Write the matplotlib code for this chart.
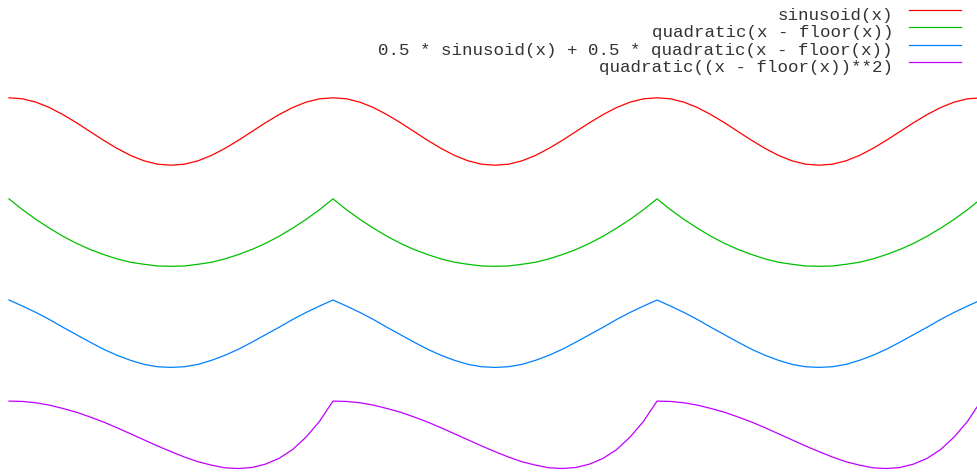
import numpy as np
import matplotlib
matplotlib.use("Agg")
import matplotlib.pyplot as plt
from matplotlib.lines import Line2D

################################ data ##########################################

# sample grid: 24 samples per period, three periods
x = np.linspace(0, 3, 73)

labels = [
    "sinusoid(x)",
    "quadratic(x - floor(x))",
    "0.5 * sinusoid(x) + 0.5 * quadratic(x - floor(x))",
    "quadratic((x - floor(x))**2)",
]

sinusoid = [
    1.00, 0.97, 0.87, 0.71, 0.50, 0.26, 0.00, -0.26, -0.50, -0.71, -0.87, -0.97,
    -1.00, -0.97, -0.87, -0.71, -0.50, -0.26, 0.00, 0.26, 0.50, 0.71, 0.87, 0.97,
    1.00, 0.97, 0.87, 0.71, 0.50, 0.26, 0.00, -0.26, -0.50, -0.71, -0.87, -0.97,
    -1.00, -0.97, -0.87, -0.71, -0.50, -0.26, 0.00, 0.26, 0.50, 0.71, 0.87, 0.97,
    1.00, 0.97, 0.87, 0.71, 0.50, 0.26, 0.00, -0.26, -0.50, -0.71, -0.87, -0.97,
    -1.00, -0.97, -0.87, -0.71, -0.50, -0.26, 0.00, 0.26, 0.50, 0.71, 0.87, 0.97,
    1.00,
]

quadratic = [
    1.00, 0.68, 0.39, 0.13, -0.11, -0.32, -0.50, -0.65, -0.78, -0.88, -0.94, -0.99,
    -1.00, -0.99, -0.94, -0.88, -0.78, -0.65, -0.50, -0.32, -0.11, 0.13, 0.39, 0.68,
    1.00, 0.68, 0.39, 0.13, -0.11, -0.32, -0.50, -0.65, -0.78, -0.88, -0.94, -0.99,
    -1.00, -0.99, -0.94, -0.88, -0.78, -0.65, -0.50, -0.32, -0.11, 0.13, 0.39, 0.68,
    1.00, 0.68, 0.39, 0.13, -0.11, -0.32, -0.50, -0.65, -0.78, -0.88, -0.94, -0.99,
    -1.00, -0.99, -0.94, -0.88, -0.78, -0.65, -0.50, -0.32, -0.11, 0.13, 0.39, 0.68,
    1.00,
]

mixed = [
    1.00, 0.82, 0.63, 0.42, 0.19, -0.03, -0.25, -0.46, -0.64, -0.79, -0.91, -0.98,
    -1.00, -0.98, -0.91, -0.79, -0.64, -0.46, -0.25, -0.03, 0.19, 0.42, 0.63, 0.82,
    1.00, 0.82, 0.63, 0.42, 0.19, -0.03, -0.25, -0.46, -0.64, -0.79, -0.91, -0.98,
    -1.00, -0.98, -0.91, -0.79, -0.64, -0.46, -0.25, -0.03, 0.19, 0.42, 0.63, 0.82,
    1.00, 0.82, 0.63, 0.42, 0.19, -0.03, -0.25, -0.46, -0.64, -0.79, -0.91, -0.98,
    -1.00, -0.98, -0.91, -0.79, -0.64, -0.46, -0.25, -0.03, 0.19, 0.42, 0.63, 0.82,
    1.00,
]

quadratic_sq = [
    1.00, 0.99, 0.95, 0.88, 0.78, 0.67, 0.53, 0.38, 0.21, 0.03, -0.15, -0.33,
    -0.50, -0.66, -0.80, -0.90, -0.98, -1.00, -0.97, -0.87, -0.70, -0.44, -0.07, 0.40,
    1.00, 0.99, 0.95, 0.88, 0.78, 0.67, 0.53, 0.38, 0.21, 0.03, -0.15, -0.33,
    -0.50, -0.66, -0.80, -0.90, -0.98, -1.00, -0.97, -0.87, -0.70, -0.44, -0.07, 0.40,
    1.00, 0.99, 0.95, 0.88, 0.78, 0.67, 0.53, 0.38, 0.21, 0.03, -0.15, -0.33,
    -0.50, -0.66, -0.80, -0.90, -0.98, -1.00, -0.97, -0.87, -0.70, -0.44, -0.07, 0.40,
    1.00,
]

series = [sinusoid, quadratic, mixed, quadratic_sq]

################################ style ##########################################

colors = ["#ff0000", "#00c000", "#0080ff", "#c000ff"]
offsets = [0, -3, -6, -9]   # vertical stacking of the curves

W, H = 977, 474
fig = plt.figure(figsize=(W / 100, H / 100), dpi=100)
ax = fig.add_axes([0, 0, 1, 1])
ax.set_axis_off()

for ys, off, c in zip(series, offsets, colors):
    ax.plot(x, np.array(ys) + off, '-', lw=0.9, color=c)

# one period = 324 px, curves start 9 px from the left edge
ax.set_xlim(-9 / 324, 968 / 324)
ax.set_ylim(-(H - 131.5) / 33.7, 131.5 / 33.7)

################################ key ##########################################

for i, (lab, c) in enumerate(zip(labels, colors)):
    ty = 15.3 + 17.4 * i
    ly = 9.8 + 17.4 * i
    fig.text(893 / W, 1 - ty / H, lab, ha='right', va='center',
             family='Liberation Mono', fontsize=12.6, color='#333333')
    fig.add_artist(Line2D([909 / W, 961 / W], [1 - ly / H] * 2,
                          transform=fig.transFigure, lw=0.9, color=c))

fig.savefig('out.png', dpi=100)
